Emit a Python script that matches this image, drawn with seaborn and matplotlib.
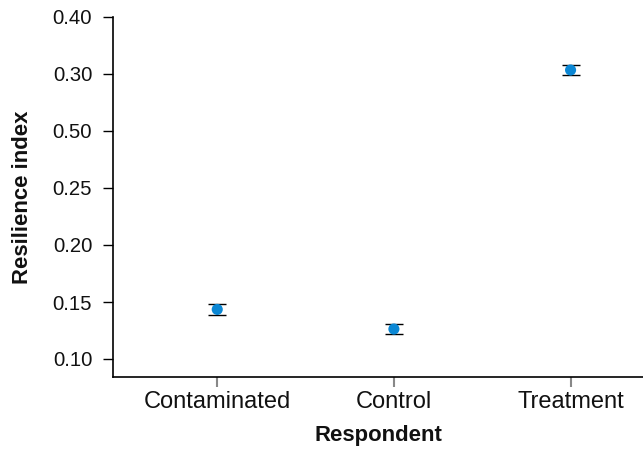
import matplotlib
matplotlib.use("Agg")
import matplotlib.pyplot as plt
import seaborn as sns
import pandas as pd

categories = ["Contaminated", "Control", "Treatment"]
means = [0.1435, 0.1263, 0.3535]
errors = [0.0045, 0.0045, 0.0048]
ytick_values = [0.10, 0.15, 0.20, 0.25, 0.30, 0.35, 0.40]
ytick_labels = ["0.10", "0.15", "0.20", "0.25", "0.50", "0.30", "0.40"]

sns.set_style("ticks")
plt.rcParams["font.family"] = ["Liberation Sans", "DejaVu Sans"]

df = pd.DataFrame({"Respondent": categories, "Resilience": means, "err": errors})

fig = plt.figure(figsize=(6.43, 4.5), dpi=100)
ax = fig.add_axes([113 / 643, 1 - 377 / 450, 1 - 113 / 643, (377 - 17) / 450])

xpos = list(range(len(categories)))
ax.errorbar(xpos, df["Resilience"], yerr=df["err"], fmt="none", ecolor="black",
            elinewidth=1.0, capsize=6.8, capthick=1.0, zorder=2)
sns.scatterplot(data=df, x="Respondent", y="Resilience", ax=ax, color="#0b87d4",
                s=64, edgecolor="none", zorder=3, legend=False)

ax.set_xlim(-0.59, 2.41)
ax.set_ylim(0.10 - 18 / 57 * 0.05, 0.40)
ax.set_yticks(ytick_values)
ax.set_yticklabels(ytick_labels)
ax.set_xticks(xpos)
ax.set_xticklabels(categories)

ax.tick_params(axis="y", direction="out", length=7.5, width=1.0, color="black",
               labelsize=14.6, pad=7.5, labelcolor="#111111")
ax.tick_params(axis="x", direction="out", length=7.5, width=1.5, color="#888888",
               labelsize=17, pad=2.5, labelcolor="#111111")

for s in ["top", "right"]:
    ax.spines[s].set_visible(False)
for s in ["left", "bottom"]:
    ax.spines[s].set_linewidth(1.2)
    ax.spines[s].set_color("black")

ax.set_xlabel("Respondent", fontsize=15.9, fontweight="bold", labelpad=9, color="#111111")
ax.set_ylabel("Resilience index", fontsize=15.9, fontweight="bold", labelpad=14, color="#111111")

fig.savefig("out.png", dpi=100)
